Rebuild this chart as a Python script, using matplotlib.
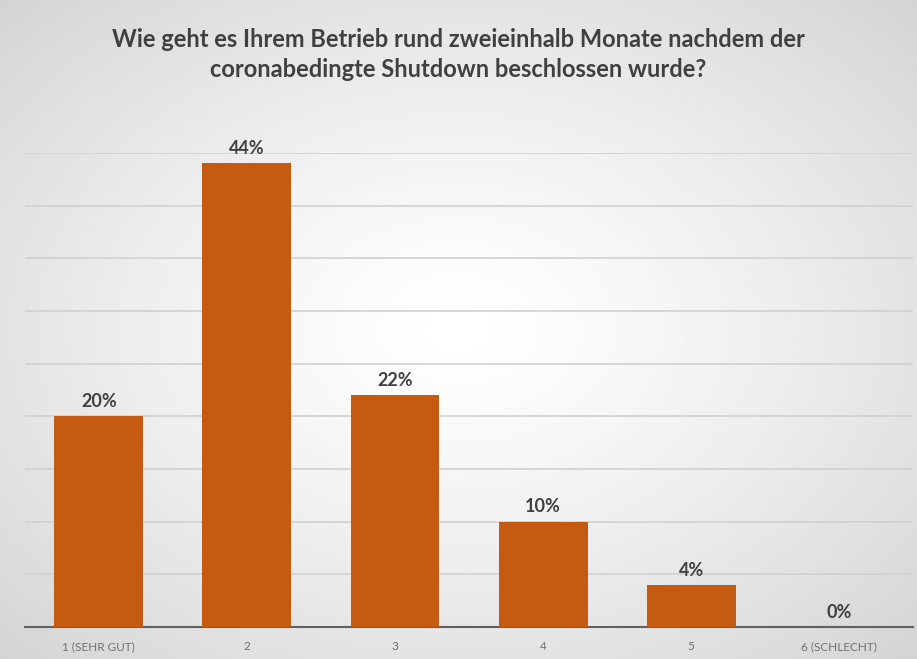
import numpy as np
import matplotlib.pyplot as plt

categories = ["1 (SEHR GUT)", "2", "3", "4", "5", "6 (SCHLECHT)"]
values = [0.20, 0.44, 0.22, 0.10, 0.04, 0.00]
labels = ["20%", "44%", "22%", "10%", "4%", "0%"]
title = "Wie geht es Ihrem Betrieb rund zweieinhalb Monate nachdem der\ncoronabedingte Shutdown beschlossen wurde?"

plt.rcParams["font.family"] = ["Lato", "DejaVu Sans"]

fig = plt.figure(figsize=(9.17, 6.59), dpi=100)

# radial gray background
bg = fig.add_axes([0, 0, 1, 1], zorder=-10)
yy, xx = np.mgrid[-1:1:300j, -1:1:400j]
r = np.sqrt(xx ** 2 + yy ** 2) / np.sqrt(2)
bg.imshow(1 - 0.17 * r ** 1.3, cmap="gray", vmin=0, vmax=1, aspect="auto",
          extent=[0, 1, 0, 1])
bg.set_axis_off()

ax = fig.add_axes([0.027, 0.0486, 0.969, 0.7194])
ax.patch.set_alpha(0)

x = np.arange(len(categories))
bars = ax.bar(x, values, width=0.6, color="#C55A11", zorder=3)

for xi, v, lab in zip(x, values, labels):
    ax.text(xi, v + 0.006, lab, ha="center", va="bottom", fontsize=13,
            fontweight="bold", color="#404040")

ax.set_xlim(-0.5, len(categories) - 0.5)
ax.set_ylim(0, 0.45)
ax.set_yticks(np.arange(0, 0.451, 0.05))
ax.tick_params(axis="y", length=0, labelleft=False)
ax.grid(axis="y", color="#d0d0d0", linewidth=1.2, zorder=0)
ax.set_xticks(x)
ax.set_xticklabels(categories, fontsize=8.5, color="#707070")
ax.tick_params(axis="x", length=0, pad=10)
for s in ["top", "right", "left"]:
    ax.spines[s].set_visible(False)
ax.spines["bottom"].set_color("#606060")
ax.spines["bottom"].set_linewidth(1.5)

fig.text(0.5, 0.917, title, ha="center", va="center", fontsize=17,
         fontweight="bold", color="#404040", linespacing=1.4)

fig.savefig("out.png", dpi=100)
